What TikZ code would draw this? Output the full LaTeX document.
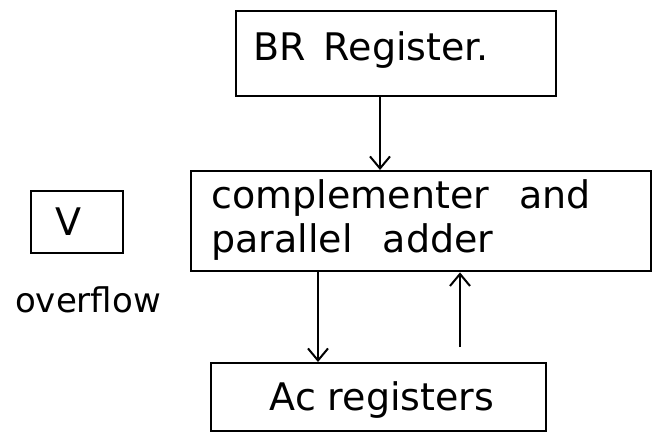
\documentclass[tikz,border=0pt]{standalone}
\usepackage{fontspec}
\setmainfont{DejaVu Sans}
\usetikzlibrary{arrows.meta}
\begin{document}
\begin{tikzpicture}[x=1pt,y=-1pt,
  box/.style={draw,line width=2.4pt,inner sep=0pt,anchor=north west},
  lbl/.style={font=\fontsize{38}{44}\selectfont},
  arr/.style={line width=2pt,-{Straight Barb[length=12pt,width=20pt]}}]
\useasboundingbox (0,0) rectangle (657,434);
\node[box,minimum width=320pt,minimum height=85pt] (br) at (235,10) {};
\node[lbl,anchor=west] (brt) at (250,50) {BR\hspace{18pt}Register.};
\node[box,minimum width=460pt,minimum height=100pt] (comp) at (190,170) {};
\node[lbl,align=left,anchor=west] (compt) at (208,220) {complementer\hspace{30pt}and\\parallel\hspace{30pt}adder};
\node[box,minimum width=92pt,minimum height=62pt] (v) at (30,190) {};
\node[lbl] (vt) at (68,222) {V};
\node[lbl,font=\fontsize{34}{40}\selectfont] (of) at (88,300) {overflow};
\node[box,minimum width=335pt,minimum height=68pt] (ac) at (210,362) {};
\node[lbl] (act) at (382,400) {Ac registers};
\coordinate (x1) at (380,0);
\coordinate (x2) at (318,0);
\coordinate (x3) at (460,0);
\draw[arr] (br.south -| x1) -- (comp.north -| x1);
\draw[arr] (comp.south -| x2) -- (ac.north -| x2);
\draw[arr] ([yshift=15pt]ac.north -| x3) -- (comp.south -| x3);
\end{tikzpicture}
\end{document}
